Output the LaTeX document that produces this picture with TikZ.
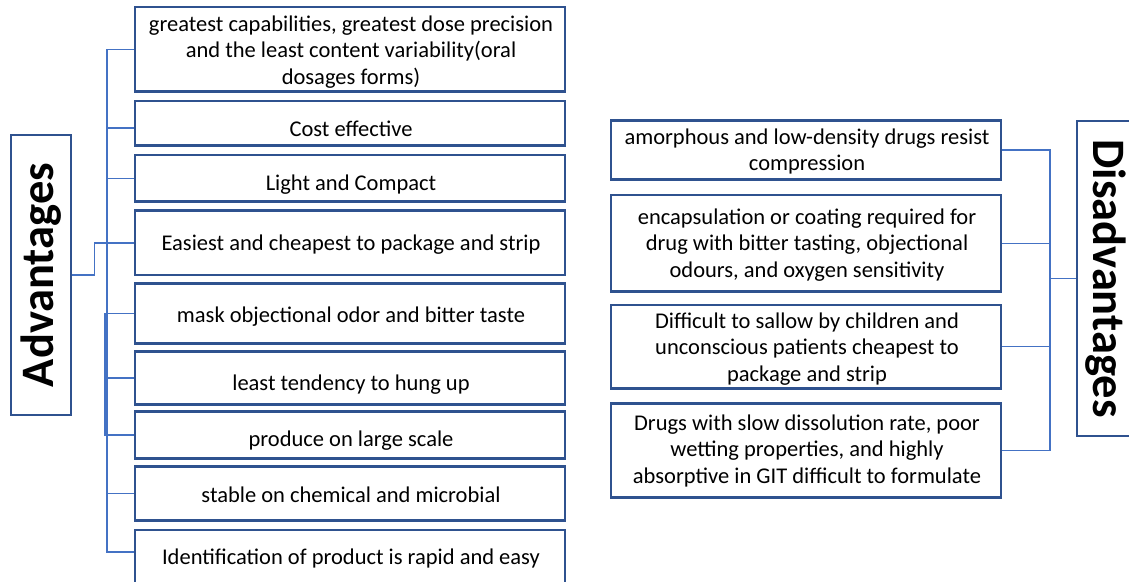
\documentclass[tikz,border=0pt]{standalone}
\usepackage{fontspec}
\setmainfont{Carlito}
\begin{document}
\begin{tikzpicture}[x=1pt,y=-1pt,
  frame/.style={draw=boxblue,line width=2.6pt,fill=white,inner sep=0pt},
  lbox/.style={frame,minimum width=430pt},
  rbox/.style={frame,minimum width=390pt},
  txt/.style={align=center,inner sep=0pt,font=\fontsize{22.5}{26.6}\selectfont},
  headtext/.style={inner sep=0pt,font=\fontsize{46.5}{50}\selectfont\bfseries},
  conn/.style={draw=linkblue,line width=1.3pt}]
\definecolor{boxblue}{HTML}{2F528F}
\definecolor{linkblue}{HTML}{4472C4}
\useasboundingbox (0,0) rectangle (1129,581);

% headings
\node[frame,minimum width=60pt,minimum height=280pt] (adv) at (41,275) {};
\node[rotate=90,headtext] (advt) at (adv.center) {Advantages};
\node[frame,minimum width=58pt,minimum height=315pt] (dis) at (1106,278.5) {};
\node[rotate=-90,headtext] (dist) at (dis.center) {Disadvantages};

% advantages: frames
\node[lbox,minimum height=84.7pt] (b1) at (350,49.35) {};
\node[lbox,minimum height=44.7pt] (b2) at (350,123.35) {};
\node[lbox,minimum height=46.7pt] (b3) at (350,178.35) {};
\node[lbox,minimum height=64.3pt] (b4) at (350,242.85) {};
\node[lbox,minimum height=60pt]   (b5) at (350,313.3) {};
\node[lbox,minimum height=52.6pt] (b6) at (350,378) {};
\node[lbox,minimum height=46.6pt] (b7) at (350,435) {};
\node[lbox,minimum height=54pt]   (b8) at (350,493.7) {};
\node[lbox,minimum height=60pt]   (b9) at (350,560) {};

% advantages: texts
\node[txt] (t1) at (351,52.3) {\strut greatest capabilities, greatest dose precision\\\strut and the least content variability(oral\\\strut dosages forms)};
\node[txt] (t2) at (351,130.7) {\strut Cost effective};
\node[txt] (t3) at (351,184.7) {\strut Light and Compact};
\node[txt] (t4) at (351,244.7) {\strut Easiest and cheapest to package and strip};
\node[txt] (t5) at (351,317) {\strut mask objectional odor and bitter taste};
\node[txt] (t6) at (351,385.4) {\strut least tendency to hung up};
\node[txt] (t7) at (351,441.4) {\strut produce on large scale};
\node[txt] (t8) at (351,497.5) {\strut stable on chemical and microbial};
\node[txt] (t9) at (351,559) {\strut Identification of product is rapid and easy};

% disadvantages: frames
\node[rbox,minimum height=58.6pt] (r1) at (806,150) {};
\node[rbox,minimum height=96.7pt] (r2) at (806,243.35) {};
\node[rbox,minimum height=83.3pt] (r3) at (806,346.65) {};
\node[rbox,minimum height=94.4pt] (r4) at (806,450.5) {};

% disadvantages: texts
\node[txt] (s1) at (807,152.3) {\strut amorphous and low-density drugs resist\\\strut compression};
\node[txt] (s2) at (807,245.6) {\strut encapsulation or coating required for\\\strut drug with bitter tasting, objectional\\\strut odours, and oxygen sensitivity};
\node[txt] (s3) at (807,349.6) {\strut Difficult to sallow by children and\\\strut unconscious patients cheapest to\\\strut package and strip};
\node[txt] (s4) at (807,451.3) {\strut Drugs with slow dissolution rate, poor\\\strut wetting properties, and highly\\\strut absorptive in GIT difficult to formulate};

% left tree
\coordinate (lt) at (107,0);
\coordinate (lt2) at (105,0);
\coordinate (j2) at ([yshift=-4.6pt]b2.west);
\coordinate (j9) at ([yshift=8pt]b9.west);
\draw[conn] (adv.east) -- ++(22,0) |- (b4.west);
\draw[conn] (b1.west) -| (lt |- j9) -- (j9);
\draw[conn] (j2) -- (lt |- j2);
\foreach \b in {b3,b4,b8} \draw[conn] (\b.west) -- (lt |- \b.west);
\draw[conn] (b5.west) -| (lt2 |- b7.west) -- (b7.west);
\draw[conn] (b6.west) -- (lt2 |- b6.west);

% right tree
\coordinate (rt) at (1050,0);
\draw[conn] (r1.east) -| (rt |- r4.east) -- (r4.east);
\foreach \r in {r2,r3} \draw[conn] (\r.east) -- (rt |- \r.east);
\draw[conn] (dis.west) -- (rt |- dis.west);
\end{tikzpicture}
\end{document}
